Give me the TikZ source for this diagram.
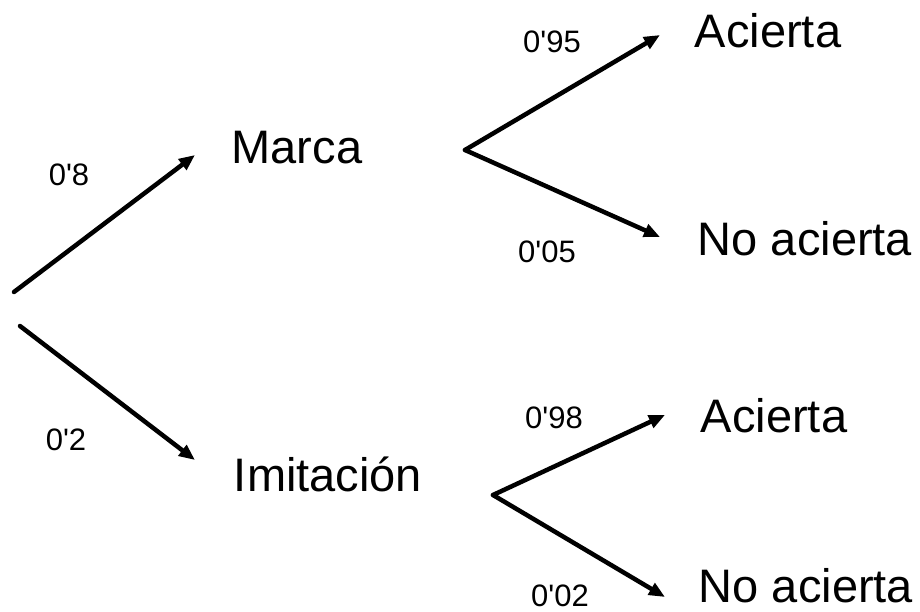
\documentclass[tikz,border=0pt]{standalone}
\usepackage{fontspec}
\setmainfont{Liberation Sans}
\newfontfamily\probfont{Liberation Sans}
\usetikzlibrary{arrows.meta}
\begin{document}
\begin{tikzpicture}[x=1pt,y=-1pt,
  arr/.style={line width=4.5pt,line cap=round,-{Triangle[length=16pt,width=13pt]}},
  big/.style={font=\fontsize{47}{52}\selectfont,inner sep=0pt},
  prob/.style={font=\probfont\fontsize{31}{34}\selectfont,inner sep=0pt}]
\useasboundingbox (0,0) rectangle (920,612);
% coordinates
\coordinate (r1) at (14,292);
\coordinate (r2) at (20,326);
\coordinate (e1) at (195,155);
\coordinate (e2) at (195,460);
\coordinate (bm) at (465,150);
\coordinate (bi) at (493,495);
\coordinate (ma) at (660,35);
\coordinate (mn) at (660,237);
\coordinate (ia) at (665,415);
\coordinate (in) at (665,597);
% nodes
\node[big] (marca) at (297,148) {Marca};
\node[big] (imit) at (328,474) {Imitación};
\node[big] (ac1) at (768,31) {Acierta};
\node[big] (na1) at (805,238.5) {No acierta};
\node[big] (ac2) at (774,415.5) {Acierta};
\node[big] (na2) at (806,586) {No acierta};
\node[prob] (p8) at (69,175) {0'8};
\node[prob] (p2) at (66,440) {0'2};
\node[prob] (p95) at (552,42) {0'95};
\node[prob] (p05) at (547,252) {0'05};
\node[prob] (p98) at (554,418) {0'98};
\node[prob] (p02) at (560,596) {0'02};
% arrows
\draw[arr] (r1) -- (e1);
\draw[arr] (r2) -- (e2);
\draw[arr] (bm) -- (ma);
\draw[arr] (bm) -- (mn);
\draw[arr] (bi) -- (ia);
\draw[arr] (bi) -- (in);
\end{tikzpicture}
\end{document}
